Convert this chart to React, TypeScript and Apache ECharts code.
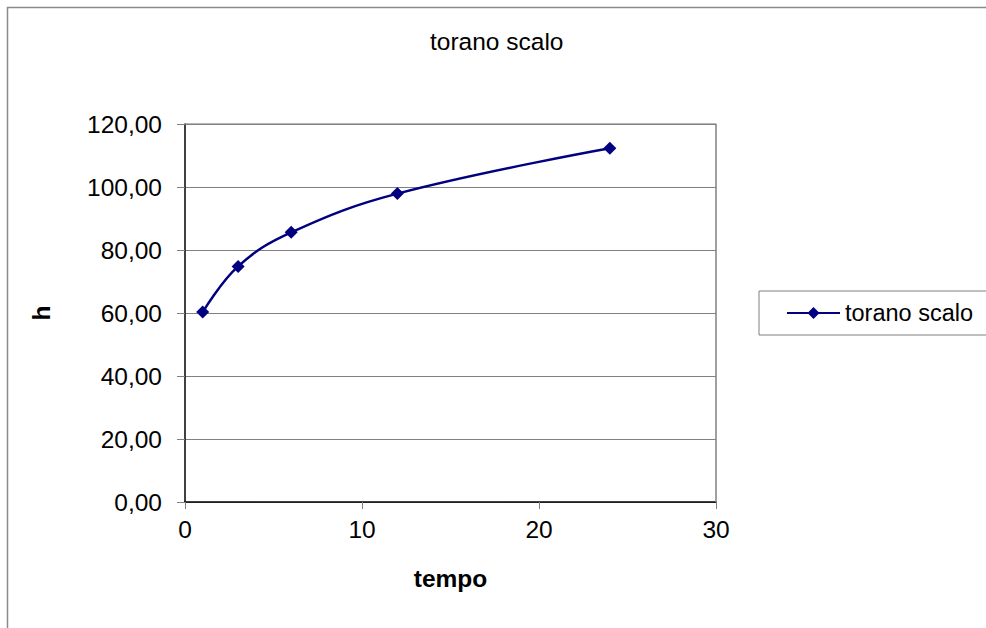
import React, { useEffect, useRef } from "react";
import * as echarts from "echarts";

// Water level h over time for the "torano scalo" station
const seriesName = "torano scalo";
const tempo = [1, 3, 6, 12, 24];
const hValues = [60.3, 74.8, 85.6, 97.9, 112.3];

const xMin = 0;
const xMax = 30;
const xStep = 10;
const yMin = 0;
const yMax = 120;
const yStep = 20;

const FONT = "'Liberation Sans', Arial, sans-serif";

export default function App() {
  const ref = useRef<HTMLDivElement>(null);

  useEffect(() => {
    if (!ref.current) return;
    const chart = echarts.init(ref.current, undefined, { renderer: "svg" });
    const points = tempo.map((t, i) => [t, hValues[i]]);

    chart.setOption({
      animation: false,
      backgroundColor: "#ffffff",
      textStyle: { fontFamily: FONT },
      title: {
        text: seriesName,
        left: 430,
        top: 29,
        padding: 0,
        textStyle: { fontFamily: FONT, fontSize: 24.5, fontWeight: "normal", color: "#000" },
      },
      graphic: [
        {
          type: "rect",
          shape: { x: 7.5, y: 7.5, width: 1200, height: 1000 },
          style: { fill: "none", stroke: "#8a8a8a", lineWidth: 1.5 },
          silent: true,
          z: -1,
        },
      ],
      legend: {
        left: 759,
        top: 291,
        orient: "vertical",
        padding: [10, 40, 10, 27],
        borderColor: "#808080",
        borderWidth: 1,
        itemWidth: 53,
        itemHeight: 15,
        itemGap: 0,
        textStyle: { fontFamily: FONT, fontSize: 23.5, color: "#000", padding: [0, 0, 0, 0] },
        data: [seriesName],
      },
      grid: { left: 185, top: 124, width: 531, height: 378, show: false },
      xAxis: {
        type: "value",
        min: xMin,
        max: xMax,
        interval: xStep,
        name: "tempo",
        nameLocation: "middle",
        nameGap: 64,
        nameTextStyle: { fontFamily: FONT, fontSize: 24.5, fontWeight: "bold", color: "#000" },
        axisLine: { show: true, onZero: false, lineStyle: { color: "#000", width: 1.5 } },
        axisTick: { show: true, length: 7, lineStyle: { color: "#808080" } },
        axisLabel: { fontFamily: FONT, fontSize: 24.5, color: "#000", margin: 15 },
        splitLine: { show: false },
      },
      yAxis: {
        type: "value",
        min: yMin,
        max: yMax,
        interval: yStep,
        name: "h",
        nameLocation: "middle",
        nameGap: 131,
        nameTextStyle: { fontFamily: FONT, fontSize: 24.5, fontWeight: "bold", color: "#000" },
        axisLine: { show: true, onZero: false, lineStyle: { color: "#000", width: 1.5 } },
        axisTick: { show: true, length: 8, lineStyle: { color: "#808080" } },
        axisLabel: {
          fontFamily: FONT,
          fontSize: 24.5,
          color: "#000",
          margin: 23,
          formatter: (v: number) => v.toFixed(2).replace(".", ","),
        },
        splitLine: { show: true, lineStyle: { color: "#808080", width: 1 } },
      },
      series: [
        {
          name: seriesName,
          type: "line",
          data: points,
          smooth: 0.4,
          symbol: "diamond",
          symbolSize: 13,
          lineStyle: { color: "#000080", width: 2.5 },
          itemStyle: { color: "#000080" },
        },
        {
          // right and top frame of the plot area
          type: "line",
          silent: true,
          symbol: "none",
          data: [[xMin, yMax], [xMax, yMax], [xMax, yMin]],
          lineStyle: { color: "#808080", width: 1.5 },
          z: 1,
        },
      ],
    });

    return () => chart.dispose();
  }, []);

  return (
    <div
      ref={ref}
      style={{ position: "fixed", left: 0, top: 0, width: 986, height: 628 }}
    />
  );
}
